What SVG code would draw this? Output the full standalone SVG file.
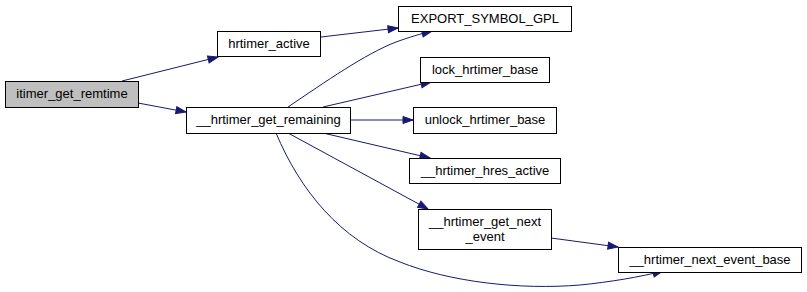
<svg xmlns="http://www.w3.org/2000/svg" width="807" height="292" viewBox="0 0 807 292">
  <style>
    .node rect { fill: #ffffff; stroke: #000000; stroke-width: 1; }
    .node.root rect { fill: #bfbfbf; }
    .node text { font-family: "Liberation Sans", Arial, Helvetica, sans-serif; font-size: 13px; fill: #000000; text-anchor: middle; }
    .edge { fill: none; stroke: #191970; stroke-width: 1; marker-end: url(#arrow); }
  </style>
  <defs>
    <marker id="arrow" markerUnits="userSpaceOnUse" markerWidth="12" markerHeight="10" refX="11" refY="4.5" orient="auto">
      <path d="M1,1 L11,4.5 L1,8 z" fill="#191970" stroke="#191970"/>
    </marker>
  </defs>
  <rect width="807" height="292" fill="#ffffff"/>

  <!-- call edges -->
  <g id="edges">
    <path class="edge" d="M122,81 L218,57"/>
    <path class="edge" d="M138,103 L186,112"/>
    <path class="edge" d="M321,37 L398,28"/>
    <path class="edge" d="M288,107 C325,82 365,54 396,42 C410,37 420,34 432,31"/>
    <path class="edge" d="M323,107 L431,82"/>
    <path class="edge" d="M350,120 L413,120"/>
    <path class="edge" d="M323,133 L430,158"/>
    <path class="edge" d="M288,133 L428,209"/>
    <path class="edge" d="M276,133 C300,190 340,240 400,262 C450,282 520,290 580,285 C610,282 640,277 663,271"/>
    <path class="edge" d="M551,238 L618,247"/>
  </g>

  <g id="itimer_get_remtime" class="node root">
    <rect x="5.5" y="81.5" width="133" height="26"/>
    <text x="72" y="98">itimer_get_remtime</text>
  </g>
  <g id="hrtimer_active" class="node">
    <rect x="217.5" y="31.5" width="103" height="25"/>
    <text x="269" y="48">hrtimer_active</text>
  </g>
  <g id="__hrtimer_get_remaining" class="node">
    <rect x="186.5" y="107.5" width="164" height="26"/>
    <text x="268.5" y="124">__hrtimer_get_remaining</text>
  </g>
  <g id="EXPORT_SYMBOL_GPL" class="node">
    <rect x="398.5" y="6.5" width="173" height="25"/>
    <text x="485" y="23">EXPORT_SYMBOL_GPL</text>
  </g>
  <g id="lock_hrtimer_base" class="node">
    <rect x="420.5" y="57.5" width="129" height="25"/>
    <text x="485" y="74">lock_hrtimer_base</text>
  </g>
  <g id="unlock_hrtimer_base" class="node">
    <rect x="413.5" y="107.5" width="143" height="26"/>
    <text x="485" y="124">unlock_hrtimer_base</text>
  </g>
  <g id="__hrtimer_hres_active" class="node">
    <rect x="409.5" y="158.5" width="151" height="25"/>
    <text x="485" y="175">__hrtimer_hres_active</text>
  </g>
  <g id="__hrtimer_get_next_event" class="node">
    <rect x="418.5" y="209.5" width="133" height="40"/>
    <text x="485" y="226">__hrtimer_get_next</text>
    <text x="485" y="241">_event</text>
  </g>
  <g id="__hrtimer_next_event_base" class="node">
    <rect x="618.5" y="247.5" width="183" height="25"/>
    <text x="710" y="264">__hrtimer_next_event_base</text>
  </g>
</svg>
